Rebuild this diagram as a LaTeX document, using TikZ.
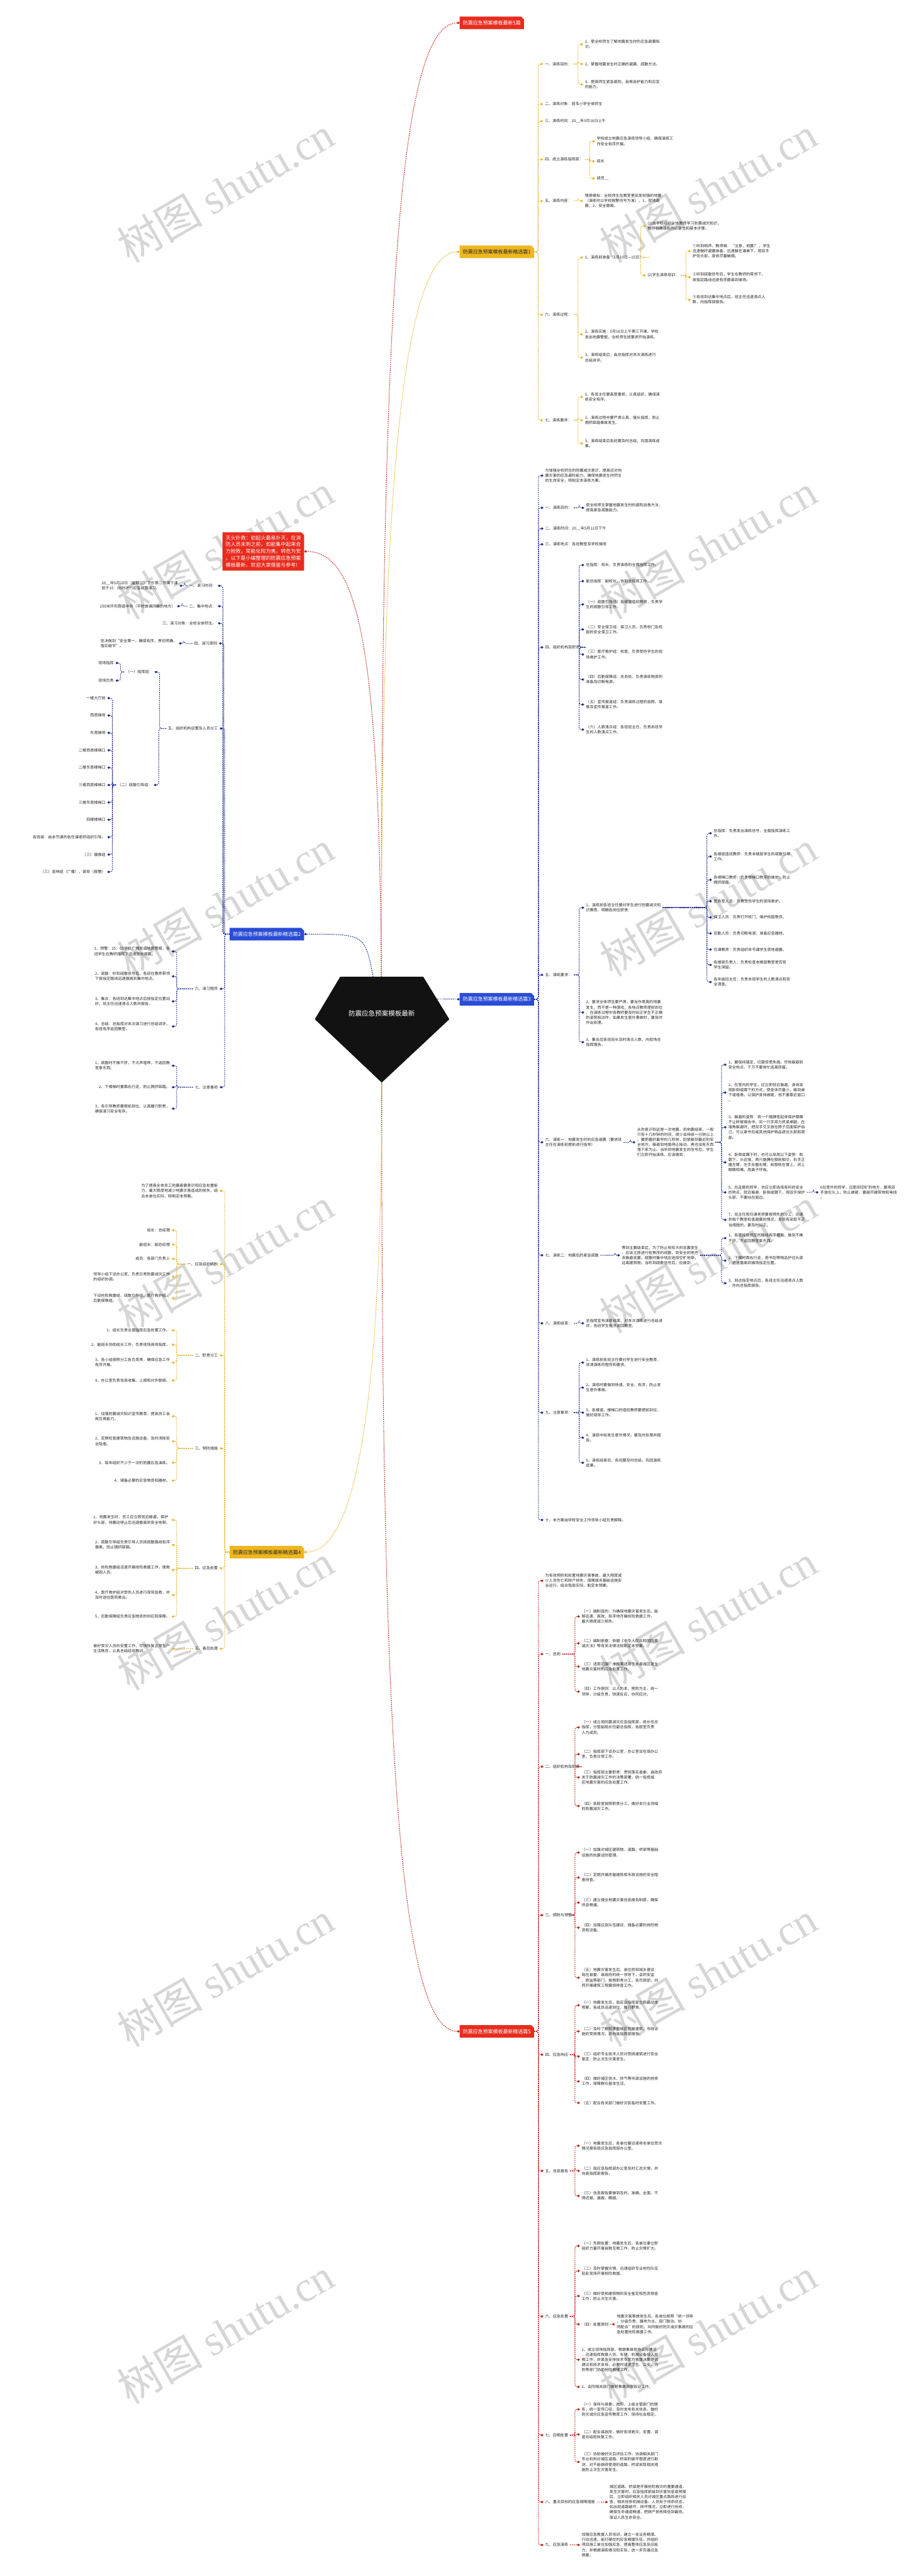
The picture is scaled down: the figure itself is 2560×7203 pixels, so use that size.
\documentclass[tikz,border=0pt]{standalone}
\usepackage{fontspec}
\setmainfont{Noto Sans CJK SC}
\newfontfamily\wmfont{Liberation Serif}
\usetikzlibrary{arrows.meta,shapes.misc}
\definecolor{hong}{RGB}{232,44,30}
\definecolor{hongxian}{RGB}{190,36,28}
\definecolor{huang}{RGB}{238,182,32}
\definecolor{huangxian}{RGB}{228,182,42}
\definecolor{lan}{RGB}{42,76,214}
\definecolor{lanxian}{RGB}{30,44,140}
\definecolor{shuiyin}{RGB}{214,214,214}
\begin{document}
\begin{tikzpicture}[x=1pt,y=-1pt,
  leaf/.style={anchor=west,align=left,inner sep=0pt,outer sep=5pt,text=black!85,font=\fontsize{10.7}{14.3}\selectfont},
  leafl/.style={leaf,anchor=east},
  fenzhi/.style={chamfered rectangle,chamfered rectangle corners=north east,chamfered rectangle sep=4pt,
    inner xsep=5pt,inner ysep=7pt,outer sep=0pt,font=\fontsize{14}{19}\selectfont},
  redbox/.style={fenzhi,fill=hong,text=white},
  yelbox/.style={fenzhi,fill=huang,text=black!85},
  bluebox/.style={fenzhi,fill=lan,text=white},
  xian/.style={line width=1.8pt,dash pattern=on 3pt off 2.5pt,rounded corners=6pt,-{Diamond[length=8pt,width=7pt]}},
  rline/.style={xian,draw=hongxian},
  yline/.style={xian,draw=huangxian},
  bline/.style={xian,draw=lanxian},
  shuiyinzi/.style={text=shuiyin,rotate=30,font=\fontsize{120}{120}\selectfont}]
\useasboundingbox (0,0) rectangle (2560,7203);
\fill[white] (0,0) rectangle (2560,7203);
% 水印
\foreach \yy [count=\k] in {530,1528,2526,3524,4522,5520,6518} {
  \node[shuiyinzi] (syl\k) at (630,\yy) {树图 {\wmfont shutu.cn}};
  \node[shuiyinzi] (syr\k) at (1980,\yy) {树图 {\wmfont shutu.cn}};
}
% 中心
\fill[black!93] (951,2731) -- (1183,2731) -- (1256,2850) -- (1067,3027) -- (880,2850) -- cycle;
\node[text=white,font=\fontsize{18.5}{22}\selectfont] (root) at (1067,2833) {防震应急预案模板最新};
\coordinate (rtop) at (1066,2731);
\coordinate (rtopl) at (1043,2731);
\coordinate (rbot) at (1067,3027);
\coordinate (rright) at (1223,2794);

% 分支
\node[redbox,anchor=west] (b0) at (1285,64) {防震应急预案模板最新5篇};
\node[yelbox,anchor=west] (y1) at (1285,704) {防震应急预案模板最新精选篇1};
\node[bluebox,anchor=east] (b2) at (850,2612) {防震应急预案模板最新精选篇2};
\node[bluebox,anchor=west] (b3) at (1285,2794) {防震应急预案模板最新精选篇3};
\node[yelbox,anchor=east] (y4) at (850,4340) {防震应急预案模板最新精选篇4};
\node[redbox,anchor=west] (r5) at (1285,5680) {防震应急预案模板最新精选篇5};
\node[redbox,anchor=east,align=left,inner ysep=5pt] (intro) at (850,1542) {灭火扑救：初起火最易扑灭，在消\\防人员未到之前，如能集中起来合\\力抢救，常能化险为夷，转危为安\\。以下是小编整理的防震应急预案\\模板最新，欢迎大家借鉴与参考!};

\draw[rline] (rtop) .. controls (1066,900) and (1110,64) .. (b0.west);
\draw[yline] (rtop) .. controls (1066,1500) and (1110,704) .. (y1.west);
\draw[bline] (rtopl) .. controls (1020,2612) .. (b2.east);
\draw[bline] (rright) -- (b3.west);
\draw[rline] (rtop) .. controls (1060,1800) and (1000,1542) .. (intro.east);
\draw[yline] (rbot) .. controls (1067,3900) and (1000,4340) .. (y4.east);
\draw[rline] (rbot) .. controls (1066,4800) and (1110,5680) .. (r5.west);

% 精选篇1
\node[leaf] (y1a) at (1518,179) {一、演练目的：};
\node[leaf] (y1a1) at (1630,124) {1、使全校师生了解地震发生时的应急避震知\\识。};
\node[leaf] (y1a2) at (1630,179) {2、掌握地震发生时正确的避震、疏散方法。};
\node[leaf] (y1a3) at (1630,236) {3、提高师生紧急避险、自救自护能力和应变\\的能力。};
\node[leaf] (y1b) at (1518,291) {二、演练对象：岗韦小学全体师生};
\node[leaf] (y1c) at (1518,339) {三、演练时间：20\_\_年5月16日上午};
\node[leaf] (y1d) at (1518,446) {四、成立演练指挥部：};
\node[leaf] (y1d1) at (1663,395) {学校成立地震应急演练领导小组，确保演练工\\作安全有序开展。};
\node[leaf] (y1d2) at (1663,451) {组长};
\node[leaf] (y1d3) at (1663,499) {成员\_\_};
\node[leaf] (y1e) at (1518,562) {五、演练内容：};
\node[leaf] (y1e1) at (1630,562) {情景模拟：全校师生在教室里突发较强的地震\\（演练时以学校报警信号为准），1、就地避\\震；2、安全撤离。};
\node[leaf] (y1f) at (1518,880) {六、演练过程：};
\node[leaf] (y1f1) at (1630,720) {1、演练前准备（5月10日—15日）：};
\node[leaf] (y1f1a) at (1805,632) {(1)由学校组织全体教师学习防震减灾知识，\\教师明确演练的必要性和基本步骤。};
\node[leaf] (y1f1b) at (1805,770) {(2)学生演练培训：};
\node[leaf] (y1f1b1) at (1931,702) {①听到哨声，教师喊：“注意，地震!”，学生\\迅速做好避震准备，迅速躲在课桌下，用双手\\护住头部，身体尽量蜷缩。};
\node[leaf] (y1f1b2) at (1931,775) {②听到疏散信号后，学生在教师的带领下，\\按指定路线迅速有序撤离到操场。};
\node[leaf] (y1f1b3) at (1931,838) {③各班到达集中地点后，班主任迅速清点人\\数，向指挥部报告。};
\node[leaf] (y1f2) at (1630,935) {2、演练实施：5月16日上午第三节课，学校\\发出地震警报，全校师生按要求开始演练。};
\node[leaf] (y1f3) at (1630,1000) {3、演练结束后，由总指挥对本次演练进行\\总结讲评。};
\node[leaf] (y1g) at (1518,1175) {七、演练要求：};
\node[leaf] (y1g1) at (1630,1110) {1、各班主任要高度重视，认真组织，确保演\\练安全有序。};
\node[leaf] (y1g2) at (1630,1175) {2、演练过程中要严肃认真，服从指挥，防止\\拥挤踩踏事故发生。};
\node[leaf] (y1g3) at (1630,1240) {3、演练结束后各班要及时总结，巩固演练成\\果。};
\foreach \c in {y1a,y1b,y1c,y1d,y1e,y1f,y1g}
  \draw[yline] (y1.east) -| ([xshift=-14pt]\c.west) -- (\c.west);
\foreach \p/\c in {y1a/y1a1,y1a/y1a2,y1a/y1a3,y1d/y1d1,y1d/y1d2,y1d/y1d3,y1e/y1e1,y1f/y1f1,y1f/y1f2,y1f/y1f3,
    y1f1/y1f1a,y1f1/y1f1b,y1f1b/y1f1b1,y1f1b/y1f1b2,y1f1b/y1f1b3,y1g/y1g1,y1g/y1g2,y1g/y1g3}
  \draw[yline] (\p.east) -| ([xshift=-14pt]\c.west) -- (\c.west);

% 精选篇2（左）
\node[leafl] (b2a) at (609,1638) {一、演习时间：};
\node[leafl] (b2a1) at (502,1638) {20\_\_年5月20日（星期三）下午第二节课下课\\前于15：05时进行应急疏散演习。};
\node[leafl] (b2b) at (609,1695) {二、集中地点：};
\node[leafl] (b2b1) at (495,1695) {250米环形跑道中央（平时做课间操的地方）};
\node[leafl] (b2c) at (609,1743) {三、演习对象：全校全体师生。};
\node[leafl] (b2d) at (612,1799) {四、演习原则};
\node[leafl] (b2d1) at (500,1799) {坚决做到“安全第一，确保有序，责任明确，\\落实细节”。};
\node[leafl] (b2e) at (614,2037) {五、组织机构设置及人员分工};
\node[leafl] (b2e1) at (432,1879) {（一）指挥组：};
\node[leafl] (b2e1a) at (323,1854) {现场指挥};
\node[leafl] (b2e1b) at (323,1903) {现场负责};
\node[leafl] (b2e2) at (430,2195) {（二）疏散引导组：};
\foreach \t [count=\i] in {一楼大厅前,西首操场,东首操场,二楼西首楼梯口,二楼东首楼梯口,三楼西首楼梯口,三楼东首楼梯口,四楼楼梯口,各班级：由本节课的各任课老师组织引导。,（三）摄像组,（三）音响组（广播）、保安（报警）}
  \node[leafl] (b2e2\i) at (300,1952+48.6*\i-48.6) {\t};
\node[leafl] (b2f) at (614,2765) {六、演习程序};
\node[leafl] (b2f1) at (480,2660) {1、预警：15：05学校广播发出地震警报，各\\班学生在教师指挥下迅速就地避震。};
\node[leafl] (b2f2) at (480,2730) {2、疏散：听到疏散信号后，各班在教师带领\\下按指定路线迅速撤离到集中地点。};
\node[leafl] (b2f3) at (480,2800) {3、集合：各班到达集中地点后按指定位置站\\好，班主任迅速清点人数并报告。};
\node[leafl] (b2f4) at (480,2870) {4、总结：总指挥对本次演习进行总结讲评，\\各班有序返回教室。};
\node[leafl] (b2g) at (614,3040) {七、注意事项};
\node[leafl] (b2g1) at (480,2980) {1、疏散时不推不挤，不大声喧哗，不返回教\\室拿东西。};
\node[leafl] (b2g2) at (480,3040) {2、下楼梯时要靠右行走，防止拥挤踩踏。};
\node[leafl] (b2g3) at (480,3100) {3、各引导教师要提前到位，认真履行职责，\\确保演习安全有序。};
\foreach \c in {b2a,b2b,b2c,b2d,b2e,b2f,b2g}
  \draw[bline] (b2.west) -| ([xshift=14pt]\c.east) -- (\c.east);
\foreach \p/\c in {b2a/b2a1,b2b/b2b1,b2d/b2d1,b2e/b2e1,b2e/b2e2,b2e1/b2e1a,b2e1/b2e1b,
    b2f/b2f1,b2f/b2f2,b2f/b2f3,b2f/b2f4,b2g/b2g1,b2g/b2g2,b2g/b2g3}
  \draw[bline] (\p.west) -| ([xshift=14pt]\c.east) -- (\c.east);
\foreach \i in {1,...,11}
  \draw[bline] (b2e2.west) -| ([xshift=14pt]b2e2\i.east) -- (b2e2\i.east);

% 精选篇3（右）
\node[leaf] (b3a) at (1519,1330) {为增强全校师生的防震减灾意识，提高应对地\\震灾害的应急避险能力，确保地震发生时师生\\的生命安全，特制定本演练方案。};
\node[leaf] (b3b) at (1519,1420) {一、演练目的：};
\node[leaf] (b3b1) at (1633,1420) {使全校师生掌握地震发生时的避险自救方法，\\提高紧急疏散能力。};
\node[leaf] (b3c) at (1519,1478) {二、演练时间：20\_\_年5月12日下午};
\node[leaf] (b3d) at (1519,1522) {三、演练地点：各班教室及学校操场};
\node[leaf] (b3e) at (1519,1810) {四、组织机构及职责：};
\foreach \yy/\t [count=\i] in {1580/{总指挥：校长，负责演练的全面指挥工作。},
    1625/{副总指挥：副校长，协助总指挥工作。},
    1690/{（一）疏散引导组：各楼层值班教师，负责学\\生的疏散引导工作。},
    1760/{（二）安全保卫组：保卫人员，负责校门及校\\园的安全保卫工作。},
    1830/{（三）医疗救护组：校医，负责受伤学生的现\\场救护工作。},
    1900/{（四）后勤保障组：总务处，负责演练物资的\\准备及切断电源。},
    1970/{（五）宣传报道组：负责演练过程的拍照、录\\像及宣传报道工作。},
    2040/{（六）人数清点组：各班班主任，负责本班学\\生的人数清点工作。}}
  \node[leaf] (b3e\i) at (1633,\yy) {\t};
\node[leaf] (b3f) at (1519,2726) {五、演练要求：};
\node[leaf] (b3f1) at (1633,2538) {1、演练前各班主任要对学生进行防震减灾知\\识教育，明确各岗位职责：};
\foreach \yy/\t [count=\i] in {2330/{总指挥：负责发出演练信号，全面指挥演练工\\作。},
    2395/{各楼层值班教师：负责本楼层学生的疏散引导\\工作。},
    2460/{各楼梯口教师：负责楼梯口秩序的维护，防止\\拥挤踩踏。},
    2520/{医务室人员：负责受伤学生的现场救护。},
    2565/{保卫人员：负责打开校门，维护校园秩序。},
    2610/{后勤人员：负责切断电源，准备应急器材。},
    2655/{任课教师：负责组织本节课学生就地避震。},
    2698/{各楼层负责人：负责检查本楼层教室是否有\\学生滞留。},
    2746/{各年级班主任：负责本班学生的人数清点和安\\全清查。}}
  \node[leaf] (b3f1\i) at (1990,\yy) {\t};
\node[leaf] (b3f2) at (1633,2831) {2、要求全体师生要严肃，要当作是真的地震\\发生，而不是一种游戏，各地点教师提前到位\\，在演练过程中各教师要及时纠正学生不正确\\的姿势和动作，如果发生意外事故时，要及时\\作出处理。};
\node[leaf] (b3f3) at (1633,2914) {3、集合后各班班长及时清点人数，向现场总\\指挥报告。};
\node[leaf] (b3g) at (1519,3194) {六、演练一：地震发生时的应急避震（要求班\\主任在演练前提前进行指导）};
\node[leaf] (b3g1) at (1776,3194) {从你意识到这是一次地震，到地震结束，一般\\只有十几秒钟的时间，很少会持续一分钟以上\\。要把握好最早的几秒钟，赶紧躲到最近的安\\全地方。躲避到地面停止摇动，再也没有东西\\落下来为止。当听到地震发生的信号后，学生\\们立即开始演练，应该做到：};
\node[leaf] (b3g1a) at (2031,2977) {1、要保持镇定，切莫惊慌失措。尽快躲避到\\安全地点，千万不要匆忙逃离房屋。};
\node[leaf] (b3g1b) at (2031,3055) {2、在室内的学生，应立即就近躲避，身体采\\用卧倒或蹲下的方式，使身体尽量小，躲到桌\\下或墙角，以保护身体被砸，但不要靠近窗口\\。};
\node[leaf] (b3g1c) at (2031,3152) {3、躲避的姿势：将一个胳膊弯起来保护眼睛\\不让碎玻璃击中，另一只手用力抓紧桌腿。在\\墙角躲避时，把双手交叉放在脖子后面保护自\\己，可以拿书包或其他保护物品遮住头部和颈\\部。};
\node[leaf] (b3g1d) at (2031,3250) {4、卧倒或蹲下时，也可以采用以下姿势：脸\\朝下，头近墙，两只胳膊在额前相交，右手正\\握左臂，左手反握右臂，前额枕在臂上，闭上\\眼睛和嘴，用鼻子呼吸。};
\node[leaf] (b3g1e) at (2031,3334) {5、在走廊的同学，也应立即选择有利的安全\\的地点，就近躲避，卧倒或蹲下，用双手保护\\头部，不要站在窗边。};
\node[leaf] (b3g1e1) at (2288,3334) {6在室外的同学，应跑到空旷的地方，要用双\\手放在头上，防止被砸，要避开建筑物和电线\\。};
\node[leaf] (b3g1f) at (2031,3411) {7、班主任和任课老师要按预先的分工，迅速\\到每个教室检查避震的情况，发现有采取不正\\当措施的，要及时纠正。};
\node[leaf] (b3h) at (1519,3510) {七、演练二：地震后的紧急疏散};
\node[leaf] (b3h1) at (1733,3510) {等到主震结束后，为了防止有较大的余震发生\\，应该立即进行有秩序的疏散，到安全的地方\\去躲避余震。疏散时集中地应选择空旷地带，\\远离建筑物。当听到疏散信号后，应做到：};
\node[leaf] (b3h1a) at (2031,3462) {1、各班按照预定的路线有序撤离，做到不推\\不挤，不返回教室拿东西。};
\node[leaf] (b3h1b) at (2031,3525) {2、下楼时靠右行走，用书包等物品护住头部\\，迅速撤离到操场指定位置。};
\node[leaf] (b3h1c) at (2031,3588) {3、到达指定地点后，各班主任迅速清点人数\\，并向总指挥报告。};
\node[leaf] (b3i) at (1519,3700) {八、演练结束：};
\node[leaf] (b3i1) at (1633,3700) {总指挥宣布演练结束，对本次演练进行总结讲\\评，各班学生有序返回教室。};
\node[leaf] (b3j) at (1519,3950) {九、注意事项：};
\foreach \yy/\t [count=\i] in {3810/{1、演练前各班主任要对学生进行安全教育，\\讲清演练的程序和要求。},
    3880/{2、演练时要做到快速、安全、有序，防止发\\生意外事故。},
    3950/{3、各楼道、楼梯口的值班教师要提前到位，\\做好疏导工作。},
    4020/{4、演练中如发生意外情况，要及时处理并报\\告。},
    4090/{5、演练结束后，各班要及时总结，巩固演练\\成果。}}
  \node[leaf] (b3j\i) at (1633,\yy) {\t};
\node[leaf] (b3k) at (1519,4250) {十、本方案由学校安全工作领导小组负责解释。};
\foreach \c in {b3a,b3b,b3c,b3d,b3e,b3f,b3g,b3h,b3i,b3j,b3k}
  \draw[bline] (b3.east) -| ([xshift=-14pt]\c.west) -- (\c.west);
\foreach \p/\c in {b3b/b3b1,b3f/b3f1,b3f/b3f2,b3f/b3f3,b3g/b3g1,b3g1/b3g1a,b3g1/b3g1b,b3g1/b3g1c,b3g1/b3g1d,
    b3g1/b3g1e,b3g1/b3g1f,b3g1e/b3g1e1,b3h/b3h1,b3h1/b3h1a,b3h1/b3h1b,b3h1/b3h1c,b3i/b3i1}
  \draw[bline] (\p.east) -| ([xshift=-14pt]\c.west) -- (\c.west);
\foreach \i in {1,...,8}
  \draw[bline] (b3e.east) -| ([xshift=-14pt]b3e\i.west) -- (b3e\i.west);
\foreach \i in {1,...,9}
  \draw[bline] (b3f1.east) -| ([xshift=-14pt]b3f1\i.west) -- (b3f1\i.west);
\foreach \i in {1,...,5}
  \draw[bline] (b3j.east) -| ([xshift=-14pt]b3j\i.west) -- (b3j\i.west);

% 精选篇4（左）
\node[leafl] (y4a) at (614,3330) {为了提高全体员工防震避震意识和应急处置能\\力，最大限度地减少地震灾害造成的损失，结\\合本单位实际，特制定本预案。};
\node[leafl] (y4b) at (614,3535) {一、应急组织机构};
\foreach \yy/\t [count=\i] in {3440/{组长：总经理},3480/{副组长：副总经理},3520/{成员：各部门负责人},
    3570/{领导小组下设办公室，负责日常防震减灾工作\\的组织协调。},
    3630/{下设抢险救援组、疏散引导组、医疗救护组、\\后勤保障组。}}
  \node[leafl] (y4b\i) at (480,\yy) {\t};
\node[leafl] (y4c) at (614,3790) {二、职责分工};
\foreach \yy/\t [count=\i] in {3720/{1、组长负责全面指挥应急处置工作。},
    3760/{2、副组长协助组长工作，负责现场具体指挥。},
    3810/{3、各小组按照分工各负其责，确保应急工作\\有序开展。},
    3860/{4、办公室负责信息收集、上报和对外联络。}}
  \node[leafl] (y4c\i) at (480,\yy) {\t};
\node[leafl] (y4d) at (614,4050) {三、预防措施};
\foreach \yy/\t [count=\i] in {3960/{1、加强防震减灾知识宣传教育，提高员工自\\救互救能力。},
    4030/{2、定期检查建筑物及设施设备，及时消除安\\全隐患。},
    4090/{3、每年组织不少于一次的防震应急演练。},
    4140/{4、储备必要的应急物资和器材。}}
  \node[leafl] (y4d\i) at (480,\yy) {\t};
\node[leafl] (y4e) at (614,4385) {四、应急处置};
\foreach \yy/\t [count=\i] in {4250/{1、地震发生时，员工应立即就近躲避，保护\\好头部，待震动停止后迅速撤离到安全地带。},
    4320/{2、疏散引导组负责引导人员按疏散路线有序\\撤离，防止拥挤踩踏。},
    4390/{3、抢险救援组迅速开展抢险救援工作，搜救\\被困人员。},
    4460/{4、医疗救护组对受伤人员进行现场急救，并\\及时送往医院救治。},
    4520/{5、后勤保障组负责应急物资的供应和保障。}}
  \node[leafl] (y4e\i) at (480,\yy) {\t};
\node[leafl] (y4f) at (614,4610) {五、善后处理};
\node[leafl] (y4f1) at (480,4610) {做好受灾人员的安置工作，尽快恢复正常生产\\生活秩序，认真总结经验教训。};
\foreach \c in {y4a,y4b,y4c,y4d,y4e,y4f}
  \draw[yline] (y4.west) -| ([xshift=14pt]\c.east) -- (\c.east);
\draw[yline] (y4f.west) -- (y4f1.east);
\foreach \p/\n in {y4b/5,y4c/4,y4d/4,y4e/5}
  \foreach \i in {1,...,\n}
    \draw[yline] (\p.west) -| ([xshift=14pt]\p\i.east) -- (\p\i.east);

% 精选篇5（右下）
\node[leaf] (r5a) at (1519,4420) {为有效预防和处置地震灾害事故，最大限度减\\少人员伤亡和财产损失，保障城市基础设施安\\全运行，结合我局实际，制定本预案。};
\node[leaf] (r5b) at (1519,4625) {一、总则};
\foreach \yy/\t [count=\i] in {4520/{（一）编制目的：为确保地震灾害发生后，能\\够迅速、高效、有序地开展抢险救援工作，\\最大限度减少损失。},
    4595/{（二）编制依据：依据《中华人民共和国防震\\减灾法》等有关法律法规制定本预案。},
    4660/{（三）适用范围：本预案适用于本县城区发生\\地震灾害时的应急处置工作。},
    4730/{（四）工作原则：以人为本，预防为主，统一\\领导，分级负责，快速反应，协同应对。}}
  \node[leaf] (r5b\i) at (1621,\yy) {\t};
\node[leaf] (r5c) at (1519,4940) {二、组织机构及职责};
\foreach \yy/\t [count=\i] in {4830/{（一）成立局防震减灾应急指挥部，局长任总\\指挥，分管副局长任副总指挥，各股室负责\\人为成员。},
    4905/{（二）指挥部下设办公室，办公室设在局办公\\室，负责日常工作。},
    4970/{（三）指挥部主要职责：贯彻落实县委、县政府\\关于防震减灾工作的决策部署，统一指挥城\\区地震灾害的应急处置工作。},
    5050/{（四）各股室按照职责分工，做好本行业领域\\的防震减灾工作。}}
  \node[leaf] (r5c\i) at (1621,\yy) {\t};
\node[leaf] (r5d) at (1519,5355) {三、预防与预警};
\foreach \yy/\t [count=\i] in {5180/{（一）加强对城区建筑物、道路、桥梁等基础\\设施的抗震设防管理。},
    5250/{（二）定期开展房屋建筑和市政设施的安全隐\\患排查。},
    5320/{（三）建立健全地震灾害信息报告制度，确保\\信息畅通。},
    5390/{（四）加强应急队伍建设，储备必要的抢险物\\资和设备。},
    5530/{（五）地震灾害发生后，县住房和城乡建设\\局在县委、县政府的统一领导下，会同安监\\、质监等部门，按照职责分工，各司其职，共\\同开展建筑工程震损排查工作。}}
  \node[leaf] (r5d\i) at (1621,\yy) {\t};
\node[leaf] (r5e) at (1519,5745) {四、应急响应};
\foreach \yy/\t [count=\i] in {5607/{（一）地震发生后，局应急指挥部立即启动本\\预案，各成员迅速到位，履行职责。},
    5680/{（二）及时了解和掌握城区房屋建筑、市政设\\施的受损情况，并向县指挥部报告。},
    5750/{（三）组织专业技术人员对受损建筑进行安全\\鉴定，防止次生灾害发生。},
    5820/{（四）做好城区供水、供气等市政设施的抢修\\工作，保障群众基本生活。},
    5880/{（五）配合有关部门做好灾民临时安置工作。}}
  \node[leaf] (r5e\i) at (1621,\yy) {\t};
\node[leaf] (r5f) at (1519,6070) {五、信息报告};
\foreach \yy/\t [count=\i] in {6000/{（一）地震发生后，各单位要迅速将本单位受灾\\情况报告局应急指挥部办公室。},
    6070/{（二）局应急指挥部办公室及时汇总灾情，并\\向县指挥部报告。},
    6140/{（三）信息报告要做到及时、准确、全面，不\\得迟报、漏报、瞒报。}}
  \node[leaf] (r5f\i) at (1621,\yy) {\t};
\node[leaf] (r5g) at (1519,6477) {六、应急处置};
\foreach \yy/\t [count=\i] in {6280/{（一）先期处置：地震发生后，各单位要立即\\组织力量开展自救互救工作，防止灾情扩大。},
    6350/{（二）及时掌握灾情，迅速组织专业抢险队伍\\赶赴现场开展抢险救援。},
    6420/{（三）做好受损建筑物的安全鉴定和危房排查\\工作，防止次生灾害。},
    6499/{（四）处置原则},
    6598/{1、成立现场指挥部，根据事故现场实际情况\\，迅速指挥救援人员、车辆、机械设备投入抢\\救工作，并紧急安排技术专家为救援决策提供\\建议和技术支持，必要时请求卫生、公安、消\\防等部门协助抢险救援工作。},
    6674/{2、会同相关部门做好事故调查取证工作。}}
  \node[leaf] (r5g\i) at (1621,\yy) {\t};
\node[leaf] (r5g4a) at (1719,6499) {地震灾害事故发生后，各单位按照“统一领导\\、分级负责、属地为主、部门联动、协\\同配合”的原则，共同做好防灾减灾事故的应\\急处置抢险救援工作。};
\node[leaf] (r5h) at (1519,6809) {七、后期处置};
\node[leaf] (r5h1) at (1621,6737) {（一）保持与县委、政府、上级主管部门的联\\系，统一宣传口径，及时发布有关信息，做好\\防灾减灾应急宣传教育工作，保持社会稳定。};
\node[leaf] (r5h2) at (1621,6807) {（二）配合县政府，做好各项救灾、安置、调\\查总结和恢复工作。};
\node[leaf] (r5h3) at (1621,6884) {（三）协助做好灾后评估工作，协调相关部门\\专业机构对城区道路、桥梁的破坏程度进行勘\\测，对不能继续使用的道路、桥梁采取相关措\\施防止次生灾害发生。};
\node[leaf] (r5i) at (1519,6996) {八、重点目标的应急保障措施};
\node[leaf] (r5i1) at (1699,6996) {城区道路、桥梁是开展抢险救灾的重要通道，\\发生灾害时，应急指挥部接到灾害信息或预报\\后，立即组织相关人员对城区重点路段进行巡\\查，相关抢修机械设备、人员处于待命状态，\\如出现道路破坏、损坏情况，立即进行抢修，\\确保生命通道畅通，把财产损失降低到最低，\\保证人民生命安全。};
\node[leaf] (r5j) at (1519,7116) {九、应急演练};
\node[leaf] (r5j1) at (1621,7116) {加强应急救援人员培训，建立一支业务精湛、\\行动迅速、能打硬仗的应急救援队伍，并组织\\项目施工单位加强应急，提高整体应急反应能\\力，并根据演练情况和实际，进一步完善应急\\预案。};
\foreach \c in {r5a,r5b,r5c,r5d,r5e,r5f,r5g,r5h,r5i,r5j}
  \draw[rline] (r5.east) -| ([xshift=-14pt]\c.west) -- (\c.west);
\foreach \p/\n in {r5b/4,r5c/4,r5d/5,r5e/5,r5f/3,r5g/6,r5h/3}
  \foreach \i in {1,...,\n}
    \draw[rline] (\p.east) -| ([xshift=-14pt]\p\i.west) -- (\p\i.west);
\draw[rline] (r5g4.east) -- (r5g4a.west);
\draw[rline] (r5i.east) -- (r5i1.west);
\draw[rline] (r5j.east) -- (r5j1.west);
\end{tikzpicture}
\end{document}
